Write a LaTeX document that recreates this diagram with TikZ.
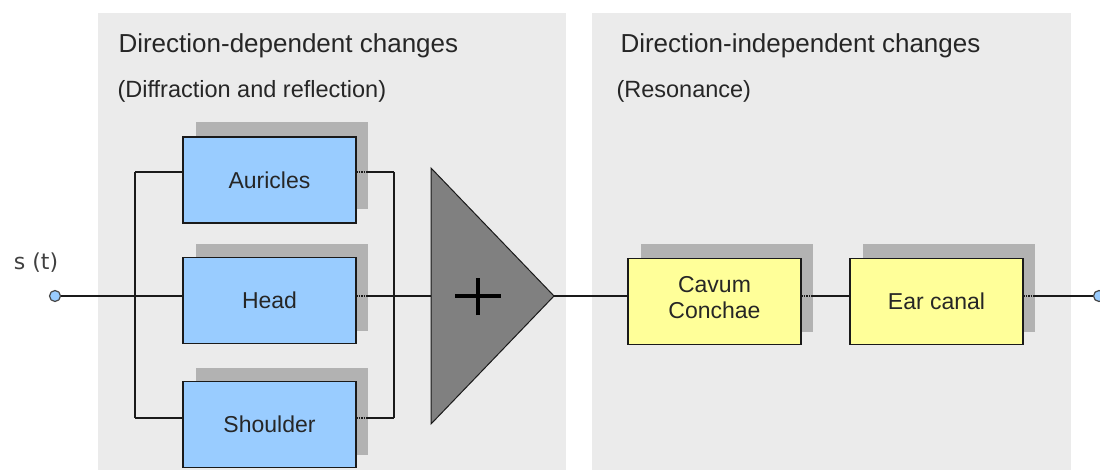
\documentclass[tikz,border=0pt]{standalone}
\usepackage{fontspec}
\setmainfont{Liberation Sans}
\newfontfamily\sigfont{DejaVu Sans}
\definecolor{panel}{HTML}{EBEBEB}
\definecolor{blockblue}{HTML}{99CCFF}
\definecolor{blockyellow}{HTML}{FFFF99}
\definecolor{shade}{HTML}{B2B2B2}
\definecolor{wire}{HTML}{1A1A1A}
\definecolor{sumgrey}{HTML}{808080}

\begin{document}
\begin{tikzpicture}[x=1pt,y=-1pt,
  block/.style={draw=wire, line width=1.6pt, minimum width=173pt, minimum height=86pt,
    inner sep=0pt, outer sep=0pt, font=\fontsize{23}{27}\selectfont, text=black!85, align=center},
  bluebox/.style={block, fill=blockblue},
  yellowbox/.style={block, fill=blockyellow},
  shadowbox/.style={fill=shade, minimum width=172pt, minimum height=87pt, inner sep=0pt, outer sep=0pt},
  wireline/.style={draw=wire, line width=1.4pt},
  overshadow/.style={draw=wire, line width=1.4pt, dash pattern=on 1.5pt off 1pt},
  terminal/.style={circle, draw=wire!80, fill=blockblue, line width=1.2pt, minimum size=11pt, inner sep=0pt},
  title/.style={anchor=base west, font=\fontsize{26}{30}\selectfont, text=black!85},
  subtitle/.style={anchor=base west, font=\fontsize{23.5}{28}\selectfont, text=black!85}]

\useasboundingbox (0,0) rectangle (1100,470);

% two background panels
\fill[panel] (98,13) rectangle (566,470);
\fill[panel] (592,13) rectangle (1071,470);

\node[title]    (t1) at (115,53) {Direction-dependent changes};
\node[subtitle] (s1) at (114,98) {(Diffraction and reflection)};
\node[title]    (t2) at (617,53) {Direction-independent changes};
\node[subtitle] (s2) at (613,98) {(Resonance)};

% input terminal
\node[terminal] (in) at (55,296) {};
\node[font=\sigfont\fontsize{22}{25}\selectfont, text=black!75] (sig) at (36,263) {s (t)};

% filter blocks with their drop shadows
\node[shadowbox] (aurS) at (282,165.5) {};
\node[bluebox]   (aur)  at (269.5,180) {Auricles};
\node[shadowbox] (headS) at (282,287.5) {};
\node[bluebox]   (head)  at (269.5,300.5) {Head};
\node[shadowbox] (shoS) at (282,411) {};
\node[bluebox]   (sho)  at (269.5,424.5) {Shoulder};

\node[shadowbox] (cavS) at (727,288) {};
\node[yellowbox] (cav)  at (714.5,301.5) {Cavum\\[-1pt]Conchae\\[-19pt]\mbox{}};
\node[shadowbox] (earS) at (949,288) {};
\node[yellowbox] (ear)  at (936.5,301.5) {Ear canal};

% summing junction
\coordinate (sumL) at (431,296);
\coordinate (sumT) at (431,168);
\coordinate (sumB) at (431,424);
\coordinate (sumR) at (554,296);
\filldraw[fill=sumgrey, draw=wire, line width=1pt, line join=miter] (sumT) -- (sumR) -- (sumB) -- cycle;
\coordinate (plus) at (478,296);
\draw[line width=4pt, black] ([xshift=-23pt]plus) -- ([xshift=23pt]plus);
\draw[line width=4pt, black] ([yshift=-19pt]plus) -- ([yshift=18pt]plus);

% output terminal
\node[terminal] (out) at (1099,296) {};

% distribution and collection buses
\coordinate (lbusT) at (135,172);
\coordinate (lbusM) at (135,296);
\coordinate (lbusB) at (135,418);
\coordinate (rbusT) at (394,172);
\coordinate (rbusM) at (394,296);
\coordinate (rbusB) at (394,418);

\draw[wireline] (in) -- (in -| head.west);
\draw[wireline] (lbusT) -- (lbusB);
\draw[wireline] (lbusT) -- (lbusT -| aur.west);
\draw[wireline] (lbusB) -- (lbusB -| sho.west);

\draw[overshadow] (lbusT -| aur.east) -- (lbusT -| aurS.east);
\draw[overshadow] (lbusM -| head.east) -- (lbusM -| headS.east);
\draw[overshadow] (lbusB -| sho.east) -- (lbusB -| shoS.east);
\draw[wireline] (lbusT -| aurS.east) -- (rbusT);
\draw[wireline] (lbusM -| headS.east) -- (rbusM);
\draw[wireline] (lbusB -| shoS.east) -- (rbusB);
\draw[wireline] (rbusT) -- (rbusB);
\draw[wireline] (rbusM) -- (sumL);

\draw[wireline] (sumR) -- (sumR -| cav.west);
\draw[overshadow] (sumR -| cav.east) -- (sumR -| cavS.east);
\draw[wireline] (sumR -| cavS.east) -- (sumR -| ear.west);
\draw[overshadow] (sumR -| ear.east) -- (sumR -| earS.east);
\draw[wireline] (sumR -| earS.east) -- (out);

\end{tikzpicture}
\end{document}
